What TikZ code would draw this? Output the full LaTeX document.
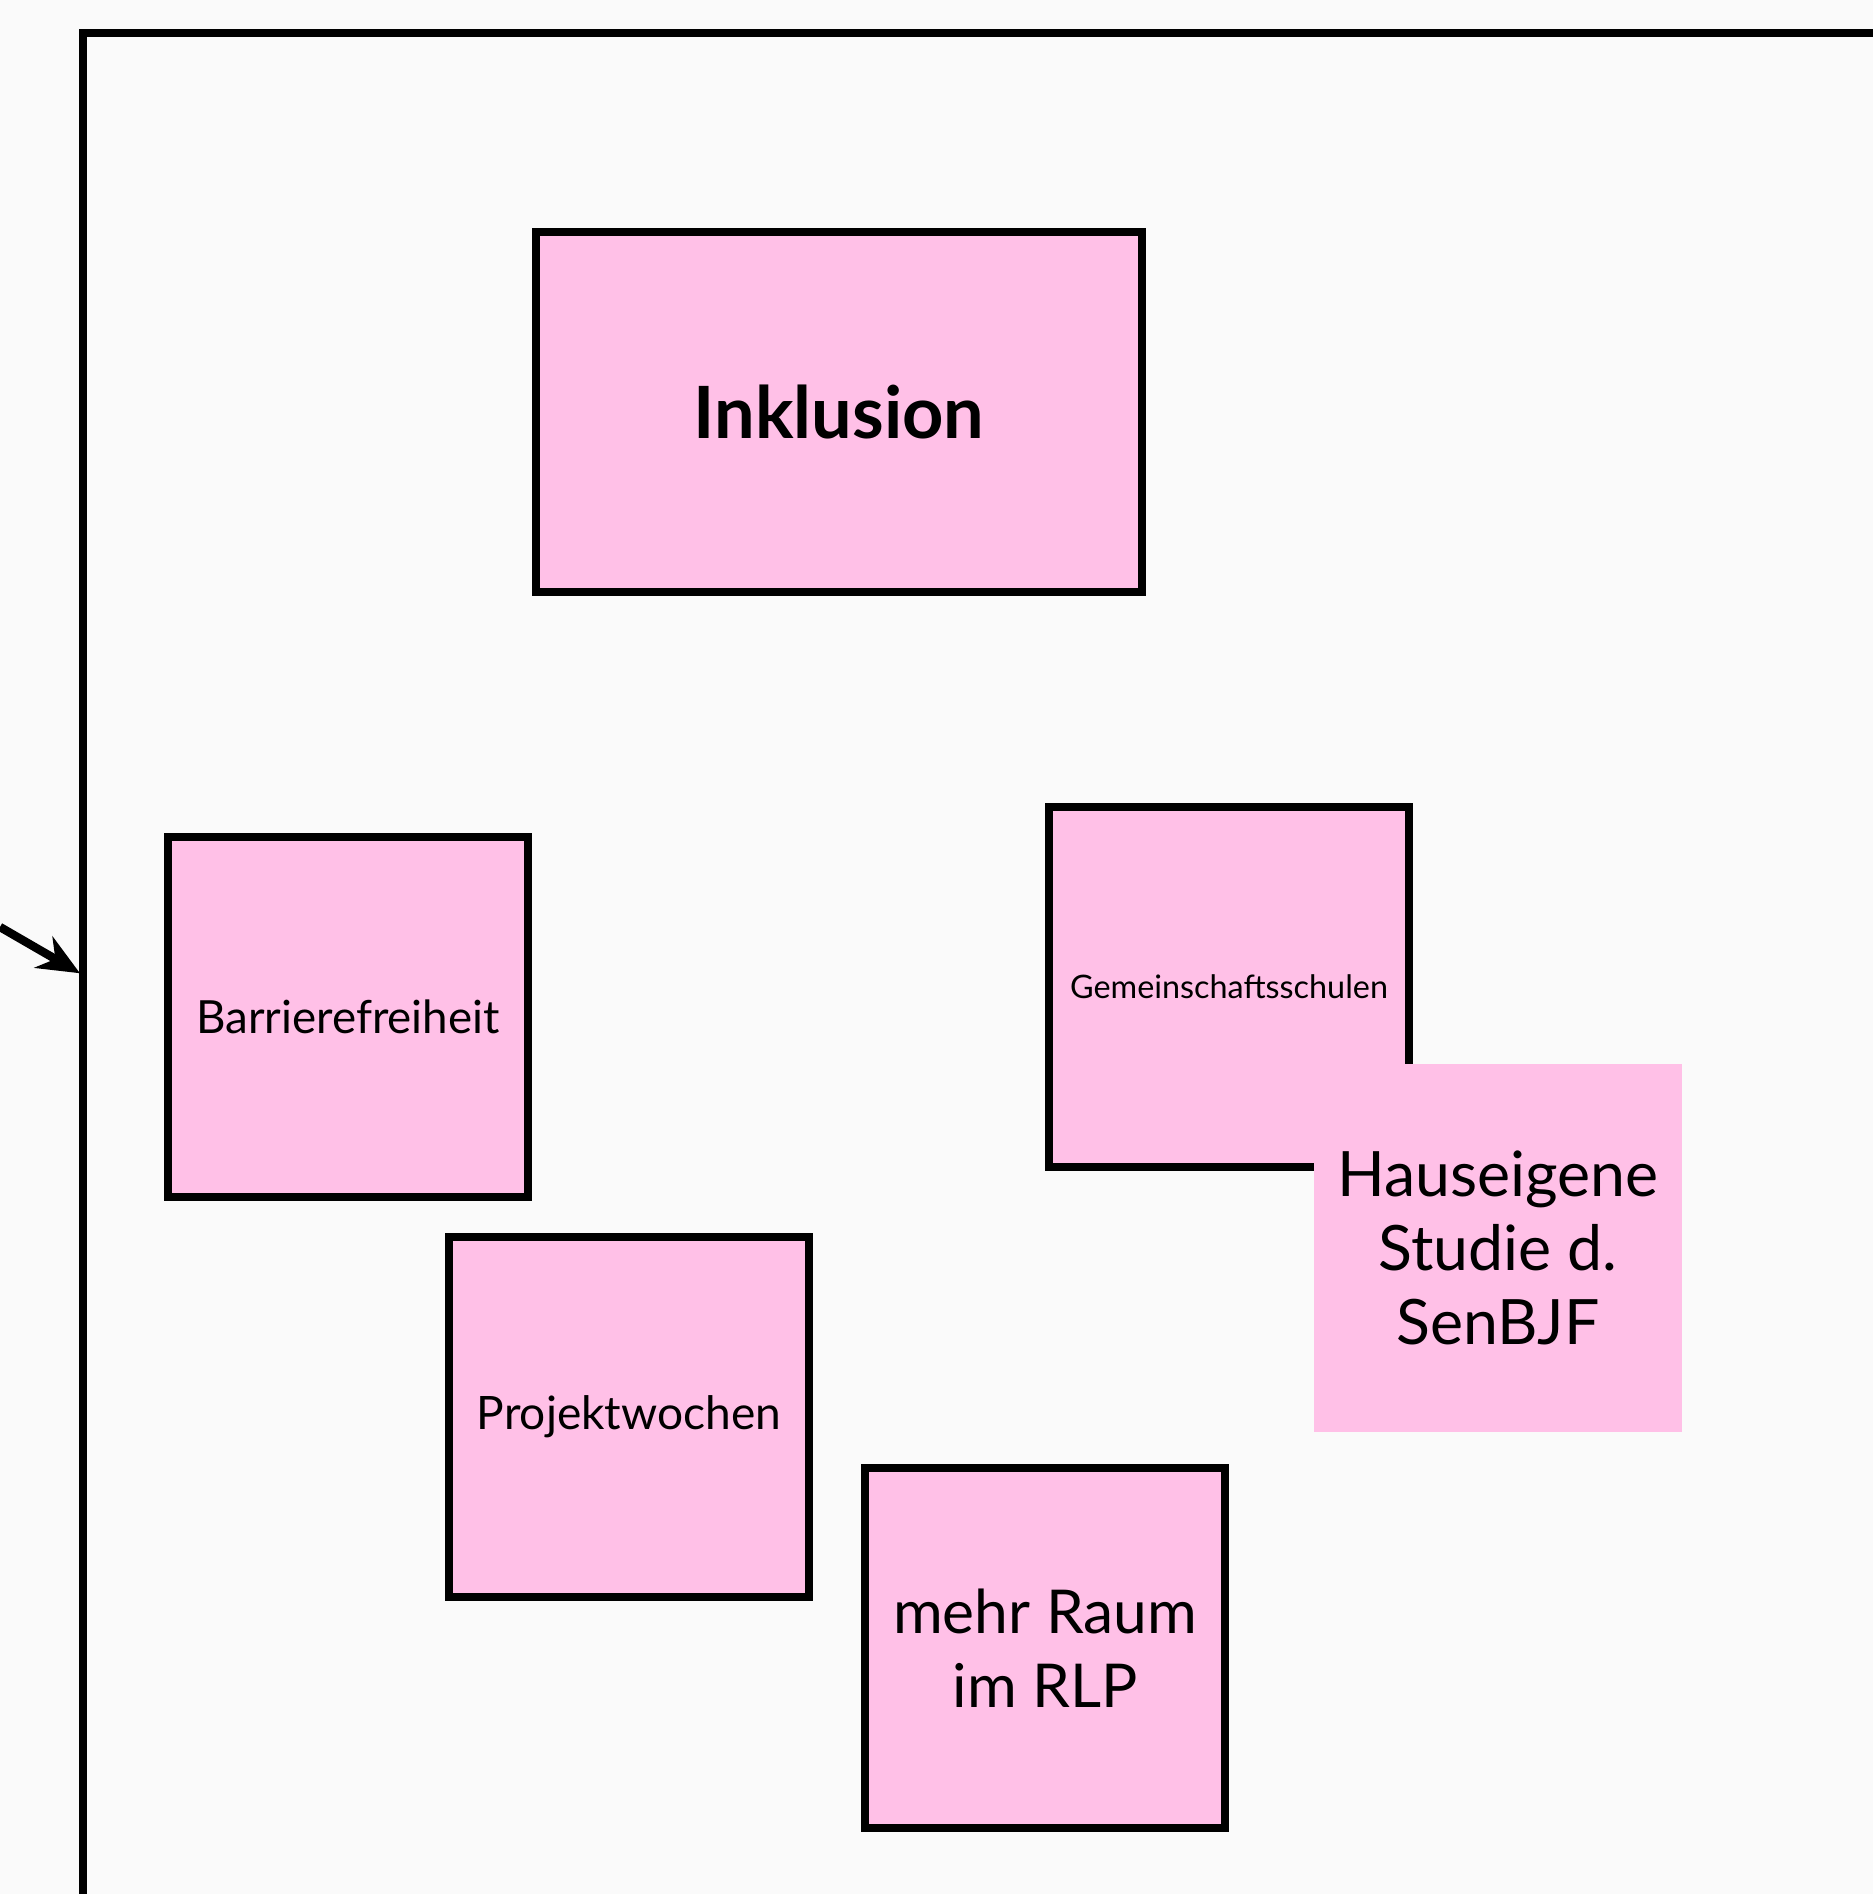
\documentclass[tikz,border=0pt]{standalone}
\usepackage{fontspec}
\setmainfont{Lato}
\usetikzlibrary{arrows.meta, positioning}
\definecolor{notepink}{RGB}{255,192,231}
\definecolor{boardbg}{RGB}{250,250,250}
\tikzset{
  note/.style={rectangle, draw=black, fill=notepink, line width=2.3pt,
    minimum width=3.6cm, minimum height=3.6cm, align=center,
    inner sep=0pt, outer sep=0pt},
  plainnote/.style={note, draw=none},
  board/.style={rectangle, draw=black, line width=2.3pt, inner sep=0pt,
    outer sep=0pt, minimum width=25cm, minimum height=25cm},
  arrow/.style={-{Stealth[length=0.42cm, width=0.36cm]}, line width=2.4pt, color=black}
}

\begin{document}
\begin{tikzpicture}[x=0.01cm, y=-0.01cm]
  % Canvas
  \fill[boardbg] (0,0) rectangle (1873,1894);
  \useasboundingbox (0,0) rectangle (1873,1894);

  % Board (runs off the page)
  \node[board, anchor=north west] (frame) at (83,33) {};

  % Incoming arrow
  \coordinate (src) at (0,927);
  \draw[arrow, shorten >=1pt] (src) -- (frame.west |- 0,975);

  % Notes
  \node[note, minimum width=6.06cm, font=\bfseries\fontsize{20.5}{24}\selectfont] (inklusion) at (839,412) {Inklusion};
  \node[note, font=\fontsize{13}{16}\selectfont] (barriere) at (348,1017) {Barrierefreiheit};
  \node[note, font=\fontsize{9.2}{11}\selectfont] (gemeinschaft) at (1229,987) {Gemeinschaftsschulen};
  \node[plainnote, minimum size=3.68cm, font=\fontsize{17.8}{21}\selectfont] (studie) at (1498,1248) {Hauseigene\\Studie d.\\SenBJF};
  \node[note, font=\fontsize{13.1}{16}\selectfont] (projekt) at (629,1417) {Projektwochen};
  \node[note, font=\fontsize{17.2}{21}\selectfont] (raum) at (1045,1648) {mehr Raum\\im RLP};
\end{tikzpicture}
\end{document}
